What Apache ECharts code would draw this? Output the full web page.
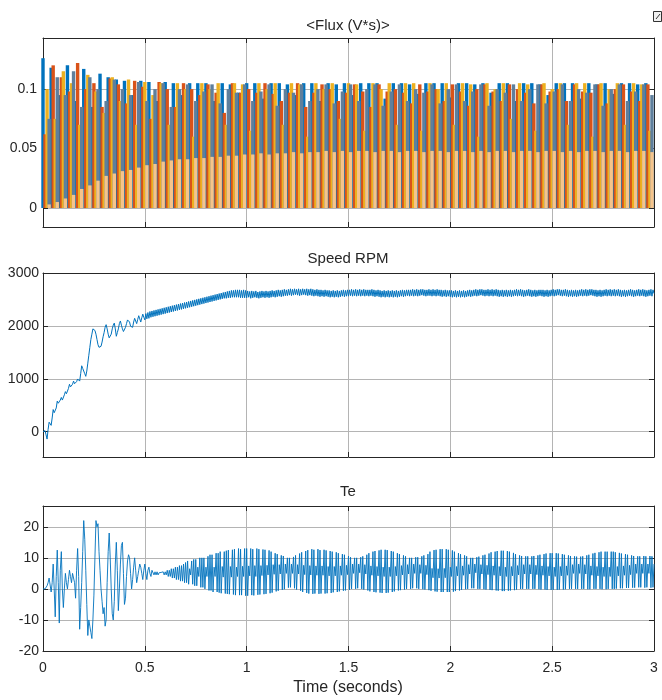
<!DOCTYPE html>
<html><head><meta charset="utf-8">
<script src="https://cdn.jsdelivr.net/npm/echarts@6/dist/echarts.min.js"></script>
<style>html,body{margin:0;padding:0;background:#fff}#c{width:662px;height:700px}</style>
</head><body><div id="c"></div>
<script>
// ---------- tick labels ----------
const TIME_TICKS = [0, 0.5, 1, 1.5, 2, 2.5, 3];
const FLUX_TICKS = [0, 0.05, 0.1];
const SPEED_TICKS = [0, 1000, 2000, 3000];
const TE_TICKS = [-20, -10, 0, 10, 20];

// ---------- sampling ----------
const SAMPLE_STEP = 0.005;  // s, Speed and Te samples
const FLUX_STEP = 0.04;     // s, spacing of each flux trace's pulses
const FLUX_OFFSETS = [0, 0.01, 0.02, 0.03, 0.03];

// ---------- <Flux (V*s)> pulse peaks ----------
const fluxBlue = [
0.126,0.118,0.095,0.12,0.09,0.117,0.085,0.113,0.11,0.108,
0.107,0.095,0.107,0.106,0.09,0.106,0.105,0.095,0.105,0.105,
0.105,0.09,0.105,0.104,0.097,0.105,0.105,0.092,0.105,0.105,
0.104,0.095,0.105,0.105,0.09,0.105,0.104,0.105,0.095,0.105,
0.105,0.105,0.092,0.105,0.105,0.104,0.096,0.105,0.105,0.105,
0.093,0.105,0.105,0.104,0.105,0.097,0.105,0.105,0.09,0.105,
0.105,0.104,0.095,0.105,0.105,0.105,0.092,0.105,0.104,0.105,
0.096,0.105,0.105,0.104,0.105];
const fluxOrange = [
0.062,0.12,0.11,0.098,0.122,0.1,0.105,0.085,0.109,0.104,
0.088,0.107,0.102,0.075,0.106,0.1,0.085,0.105,0.1,0.095,
0.104,0.097,0.08,0.105,0.097,0.1,0.097,0.105,0.096,0.09,
0.097,0.105,0.085,0.097,0.104,0.1,0.09,0.097,0.104,0.098,
0.085,0.104,0.098,0.1,0.097,0.088,0.104,0.098,0.1,0.09,
0.104,0.098,0.086,0.1,0.104,0.098,0.09,0.104,0.1,0.097,
0.088,0.104,0.098,0.1,0.09,0.104,0.098,0.097,0.104,0.088,
0.1,0.104,0.098,0.09,0.104];
const fluxYellow = [
0.1,0.075,0.115,0.105,0.07,0.112,0.098,0.08,0.11,0.09,
0.108,0.07,0.106,0.095,0.105,0.07,0.105,0.1,0.06,0.105,
0.1,0.105,0.07,0.105,0.104,0.065,0.105,0.1,0.105,0.07,
0.105,0.104,0.06,0.105,0.1,0.105,0.075,0.105,0.104,0.065,
0.105,0.1,0.105,0.07,0.105,0.105,0.065,0.105,0.1,0.105,
0.07,0.105,0.104,0.06,0.105,0.1,0.105,0.075,0.105,0.104,
0.065,0.105,0.1,0.105,0.07,0.105,0.105,0.06,0.105,0.1,
0.105,0.07,0.105,0.104,0.065];
const fluxGray = [
0.075,0.11,0.095,0.115,0.085,0.11,0.1,0.09,0.108,0.1,
0.095,0.106,0.09,0.1,0.105,0.085,0.1,0.104,0.09,0.098,
0.104,0.088,0.1,0.097,0.104,0.09,0.098,0.104,0.086,0.1,
0.097,0.104,0.09,0.1,0.104,0.088,0.098,0.104,0.09,0.1,
0.104,0.086,0.098,0.104,0.09,0.1,0.097,0.104,0.088,0.1,
0.104,0.09,0.098,0.104,0.086,0.1,0.097,0.104,0.09,0.1,
0.104,0.088,0.098,0.104,0.09,0.1,0.097,0.104,0.086,0.1,
0.104,0.09,0.098,0.104,0.095];
const fluxLight = [
0.003,0.005,0.008,0.011,0.016,0.019,0.023,0.027,0.029,0.031,
0.032,0.034,0.036,0.037,0.039,0.04,0.041,0.041,0.042,0.042,
0.043,0.043,0.044,0.044,0.045,0.045,0.046,0.045,0.046,0.046,
0.047,0.046,0.047,0.047,0.048,0.047,0.048,0.047,0.048,0.048,
0.047,0.048,0.048,0.047,0.048,0.048,0.047,0.048,0.048,0.047,
0.048,0.048,0.047,0.048,0.047,0.048,0.048,0.047,0.048,0.048,
0.047,0.048,0.048,0.047,0.048,0.047,0.048,0.048,0.047,0.048,
0.048,0.047,0.048,0.048,0.047];

// ---------- Speed RPM (every 5 ms) ----------
const speedRpm = [
0,10,20,-60,-140,40,180,150,120,260,420,360,330,450,580,540,520,600,650,600,
620,700,760,720,700,820,900,850,820,900,960,910,880,950,1000,980,960,1100,1250,1200,
1200,1100,1050,1150,1300,1450,1600,1750,1850,1950,1970,1920,1850,1750,1650,1600,1590,1620,1700,1800,
1880,1980,2030,1950,1850,1780,1750,1850,1950,2020,2060,1950,1810,1880,1950,2050,2100,2020,1950,1900,
1900,1980,2050,2120,2150,2080,2000,1990,1980,2080,2150,2100,2050,2130,2200,2140,2080,2160,2230,2170,
2120,2240,2140,2260,2150,2280,2170,2290,2180,2300,2190,2310,2200,2320,2210,2330,2220,2340,2230,2350,
2240,2360,2250,2370,2260,2380,2270,2390,2280,2400,2290,2410,2300,2420,2310,2430,2320,2440,2330,2450,
2340,2460,2350,2470,2360,2480,2370,2490,2380,2500,2390,2510,2400,2520,2410,2530,2420,2540,2430,2550,
2440,2560,2450,2570,2460,2580,2470,2590,2480,2600,2490,2610,2500,2620,2510,2630,2520,2640,2530,2650,
2530,2660,2540,2670,2540,2680,2550,2680,2550,2690,2550,2690,2550,2690,2540,2680,2540,2690,2540,2680,
2540,2670,2550,2660,2530,2670,2540,2660,2550,2670,2540,2650,2530,2660,2540,2670,2550,2660,2540,2670,
2550,2660,2540,2670,2550,2680,2560,2670,2550,2680,2560,2690,2570,2680,2560,2690,2570,2700,2580,2690,
2580,2700,2590,2710,2580,2700,2590,2710,2600,2700,2590,2710,2580,2700,2590,2710,2600,2700,2590,2710,
2580,2700,2590,2710,2580,2700,2570,2690,2580,2700,2570,2690,2560,2690,2570,2680,2560,2690,2570,2680,
2560,2680,2550,2670,2560,2680,2550,2670,2560,2680,2550,2670,2560,2680,2570,2690,2560,2680,2570,2690,
2570,2690,2580,2700,2570,2690,2580,2700,2570,2690,2580,2700,2570,2690,2580,2700,2570,2690,2580,2690,
2570,2690,2580,2700,2570,2690,2560,2680,2570,2690,2560,2680,2550,2670,2560,2680,2550,2670,2560,2680,
2550,2670,2560,2680,2550,2670,2560,2680,2550,2670,2560,2680,2570,2690,2560,2680,2570,2690,2580,2690,
2570,2690,2580,2700,2570,2690,2580,2700,2570,2690,2580,2700,2590,2700,2580,2690,2570,2690,2580,2700,
2580,2690,2570,2700,2580,2690,2570,2700,2580,2690,2570,2690,2560,2680,2570,2690,2560,2680,2570,2680,
2560,2680,2550,2670,2560,2680,2550,2670,2560,2680,2550,2670,2560,2680,2550,2670,2560,2680,2570,2690,
2560,2680,2570,2690,2580,2700,2570,2690,2580,2700,2590,2700,2580,2690,2570,2690,2580,2700,2570,2690,
2580,2700,2570,2690,2580,2700,2570,2690,2560,2680,2570,2690,2560,2680,2570,2690,2560,2680,2570,2690,
2560,2680,2570,2690,2580,2700,2570,2690,2580,2700,2570,2690,2560,2680,2570,2690,2580,2700,2570,2690,
2560,2680,2570,2690,2560,2680,2570,2690,2580,2690,2570,2690,2560,2680,2570,2690,2560,2680,2570,2690,
2580,2700,2570,2690,2580,2700,2590,2700,2580,2690,2570,2690,2580,2700,2570,2690,2560,2680,2570,2690,
2560,2680,2570,2690,2560,2680,2570,2690,2580,2700,2570,2690,2580,2700,2570,2690,2580,2700,2590,2700,
2580,2690,2570,2690,2560,2680,2570,2690,2560,2680,2570,2690,2580,2700,2570,2690,2580,2700,2570,2690,
2580,2700,2570,2690,2580,2700,2570,2690,2560,2680,2570,2690,2560,2680,2570,2690,2580,2700,2570,2690,
2560,2680,2570,2690,2580,2700,2570,2690,2580,2700,2570,2690,2560,2680,2570,2690,2580,2700,2570,2690,
2620];

// ---------- Te (every 5 ms) ----------
const teTorque = [
0,0,0,0,1,2,3.5,3,-1,2,8,0,-9,4,12.5,2,-11,6,12,0,
-6,0,5,2,0,3,6,4,2,5,5,2,-3,6,13,4,-13,-6,2,12,
22,16,6,-5,-15,-10,-12,-14,-16,-10,-2,10,22,20,21,12,6,0,-4,-8,
-6,-12,-10,2,12,18,10,0,-8,-10,-4,8,15,6,-7,0,8,14,15,5,
-5,-3,4,9,11,10,5,0,3,7,10,6,2,4,6,8,7,5,3,6,
8,5,3,6,7,5,4,6,5.5,4.5,5.5,4.5,5.5,4.5,5.2,4.8,5.3,4.7,5.5,4.5,
5.5,4.5,6,4,6,4,6.5,3.5,6.5,3.5,7,3,7,3,7.5,2.5,7.5,2.5,8,2,
8.5,2,9,1.5,6.5,4.5,9,1.5,9.5,1,9.5,1,7,4,10,0.5,10,0.5,10,0,
7,4,10.5,-0.5,11,-0.5,11,-1,7,4,11.5,-1,11.5,-1.2,12,-1.4,7.2,3.8,12,-1.5,
12.3,-1.6,12.5,-1.7,7.2,3.8,12.6,-1.8,12.8,-2,7,4,13,-2,12.8,-2,7.3,4,13,-2.2,
13,-2.2,7.4,4.2,13,-2,12.8,-2.1,7.5,4,13,-1.9,12.8,-1.8,7.5,4.3,12.7,-1.7,12.6,-1.6,
7.6,4.5,12.4,-1.4,12,-1.2,7.8,4.7,11.5,-0.8,11.2,-0.6,7.8,4.8,10.8,-0.3,10.6,-0.1,8,5,
10,0.4,10,0.5,8,5,10.3,0.2,10.8,-0.2,7.8,4.8,11.4,-0.6,11.8,-1,7.6,4.6,12.2,-1.3,
12.5,-1.5,7.5,4.5,12.8,-1.6,12.6,-1.5,7.4,4.4,12.8,-1.6,12.5,-1.5,7.4,4.4,12.6,-1.5,12.4,-1.4,
7.2,4.2,12.2,-1.3,12,-1.1,7.2,4.2,11.8,-1,11.5,-0.8,7.4,4.4,11.2,-0.6,11,-0.5,7.6,4.6,
10.6,-0.3,10.2,0,8,5,10,0,10,0.2,8,5.2,10.2,0,10.5,-0.2,7.8,4.8,11,-0.5,
11.5,-0.8,7.4,4.4,12,-1,12.2,-1.1,7.2,4.2,12.4,-1.2,12.6,-1.3,7,4,12.6,-1.3,12.5,-1.2,
7,4,12.2,-1,12,-0.8,7.2,4.2,11.5,-0.5,11.2,-0.4,7.5,4.5,10.8,-0.2,10.5,0,7.8,4.8,
10,0,10,0.2,8,5,10.2,0.2,10.2,0,7.8,5,10.5,-0.1,10.8,-0.2,7.6,4.6,11.2,-0.4,
12,-0.6,6.6,3.6,12.5,-0.8,12.6,-0.9,6.5,3.5,12.8,-1,12.8,-1,6.6,3.6,12.8,-1,12.6,-1,
7,4,12.4,-0.9,12,-0.7,7.2,4.2,11.5,-0.5,11.2,-0.3,7.4,4.4,10.8,-0.1,10.5,0,7.8,4.8,
10,0.2,10,0.2,8,5.2,10.2,0,10.4,0,7.8,4.8,10.8,-0.1,11,-0.2,7.6,4.6,11.4,-0.3,
11.8,-0.4,7.4,4.4,12,-0.5,12.2,-0.6,7.2,4.2,12.3,-0.7,12.3,-0.7,7,4,12.2,-0.6,12,-0.5,
7.2,4.2,11.6,-0.4,11.2,-0.2,7.5,4.5,10.8,0,10.6,0,7.8,4.8,10.5,0,10.5,0,7.8,4.8,
10.5,0,10.6,0,7.6,4.6,10.8,-0.1,11,-0.2,7.4,4.4,11.2,-0.2,11.4,-0.3,7.2,4.2,11.5,-0.3,
11.5,-0.3,7,4,11.5,-0.3,11.4,-0.2,7.2,4.2,11.2,-0.2,11,-0.1,7.4,4.4,10.8,0,10.6,0,
7.8,5,10.5,0,10.4,0,8,5,10.4,0,10.5,0,7.8,4.8,10.8,-0.1,11,-0.1,7.4,4.4,
11.4,0,11.6,0,7.2,4.2,11.8,0,12,-0.1,7,4,12,-0.1,12,0,7,4,12,0,
12,0,11.8,0.1,7.2,4.2,11.6,0.2,11.4,0.2,7.4,4.4,11.2,0.3,11,0.3,7.6,4.6,10.8,0.4,
10.6,0.4,8,5,10.5,0.5,10.5,0.5,8,5,10.6,0.4,10.5,0.5,8,5,10.6,0.4,10.5,0.5,
8];

// ---------- build ----------
const sampled = arr => arr.map((v, i) => [+(i * SAMPLE_STEP).toFixed(4), v]);
const pulses = (arr, off) => arr.map((v, k) => [+(k * FLUX_STEP + off).toFixed(4), v]);

const TXT = '#262626';
const AX = '#262626';
const GRIDC = '#b4b4b4';
const FONT = 'Liberation Sans, Arial, Helvetica, sans-serif';

const grids = [
  {left: 43, right: 8, top: 38, height: 189},
  {left: 43, right: 8, top: 273, height: 184},
  {left: 43, right: 8, top: 506, height: 145}
];
const yRanges = [
  {min: -0.016, max: 0.143, ticks: FLUX_TICKS, margin: 6},
  {min: -480, max: 3010, ticks: SPEED_TICKS, margin: 4},
  {min: -20, max: 26.7, ticks: TE_TICKS, margin: 4}
];

const xAxes = [], yAxes = [];
for (let g = 0; g < 3; g++) {
  xAxes.push({
    type: 'value', gridIndex: g, position: 'bottom', min: 0, max: 3, interval: 0.5,
    axisLine: {show: true, onZero: false, lineStyle: {color: AX, width: 1}},
    axisTick: {show: true, inside: true, length: 5, lineStyle: {color: AX}},
    axisLabel: {show: g === 2, color: TXT, fontSize: 14, fontFamily: FONT, margin: 10,
      formatter: v => String(v)},
    splitLine: {show: true, lineStyle: {color: GRIDC, width: 1}}
  });
}
for (let g = 0; g < 3; g++) {
  xAxes.push({
    type: 'value', gridIndex: g, position: 'top', min: 0, max: 3, interval: 0.5,
    axisLine: {show: true, onZero: false, lineStyle: {color: AX, width: 1}},
    axisTick: {show: true, inside: true, length: 5, lineStyle: {color: AX}},
    axisLabel: {show: false}, splitLine: {show: false}
  });
}
for (let g = 0; g < 3; g++) {
  const r = yRanges[g];
  yAxes.push({
    type: 'value', gridIndex: g, position: 'left', min: r.min, max: r.max,
    axisLine: {show: true, onZero: false, lineStyle: {color: AX, width: 1}},
    axisTick: {show: true, inside: true, length: 5, lineStyle: {color: AX}, customValues: r.ticks},
    axisLabel: {show: true, color: TXT, fontSize: 14, fontFamily: FONT, margin: r.margin,
      customValues: r.ticks, formatter: v => String(v)},
    splitLine: {show: true, lineStyle: {color: GRIDC, width: 1}}
  });
}
for (let g = 0; g < 3; g++) {
  const r = yRanges[g];
  yAxes.push({
    type: 'value', gridIndex: g, position: 'right', min: r.min, max: r.max,
    axisLine: {show: true, onZero: false, lineStyle: {color: AX, width: 1}},
    axisTick: {show: true, inside: true, length: 5, lineStyle: {color: AX}, customValues: r.ticks},
    axisLabel: {show: false, customValues: r.ticks}, splitLine: {show: false}
  });
}

const fluxColors = ['#0072BD', '#D95319', '#EDB120', '#5F7F9C', '#F5C48C'];
const fluxSets = [fluxBlue, fluxOrange, fluxYellow, fluxGray, fluxLight];
const series = fluxSets.map((arr, s) => ({
  type: 'bar', name: 'flux' + s, xAxisIndex: 0, yAxisIndex: 0,
  data: pulses(arr, FLUX_OFFSETS[s]), barWidth: 3.4, barGap: '-100%',
  itemStyle: {color: fluxColors[s]}, silent: true, animation: false
}));
series.push({
  type: 'line', name: 'Speed RPM', xAxisIndex: 1, yAxisIndex: 1, data: sampled(speedRpm),
  showSymbol: false, symbol: 'none', lineStyle: {color: '#0072BD', width: 1}, animation: false
});
series.push({
  type: 'line', name: 'Te', xAxisIndex: 2, yAxisIndex: 2, data: sampled(teTorque),
  showSymbol: false, symbol: 'none', lineStyle: {color: '#0072BD', width: 0.9}, animation: false
});

const tStyle = {color: TXT, fontSize: 15, fontWeight: 'normal', fontFamily: FONT};
const option = {
  backgroundColor: '#fff',
  animation: false,
  title: [
    {text: '<Flux (V*s)>', left: 348, top: 18, textAlign: 'center', padding: 0, textStyle: tStyle},
    {text: 'Speed RPM', left: 348, top: 251, textAlign: 'center', padding: 0, textStyle: tStyle},
    {text: 'Te', left: 348, top: 484, textAlign: 'center', padding: 0, textStyle: tStyle},
    {text: 'Time (seconds)', left: 348, top: 680, textAlign: 'center', padding: 0,
      textStyle: Object.assign({}, tStyle, {fontSize: 16})}
  ],
  graphic: [
    {type: 'rect', shape: {x: 653.5, y: 11.5, width: 8, height: 10},
      style: {fill: '#f0f0f0', stroke: '#333', lineWidth: 1}, silent: true},
    {type: 'line', shape: {x1: 656, y1: 19, x2: 660, y2: 14},
      style: {stroke: '#333', lineWidth: 1}, silent: true}
  ],
  grid: grids,
  xAxis: xAxes,
  yAxis: yAxes,
  series: series
};
const chart = echarts.init(document.getElementById('c'), null, {renderer: 'canvas'});
chart.setOption(option);
</script></body></html>
